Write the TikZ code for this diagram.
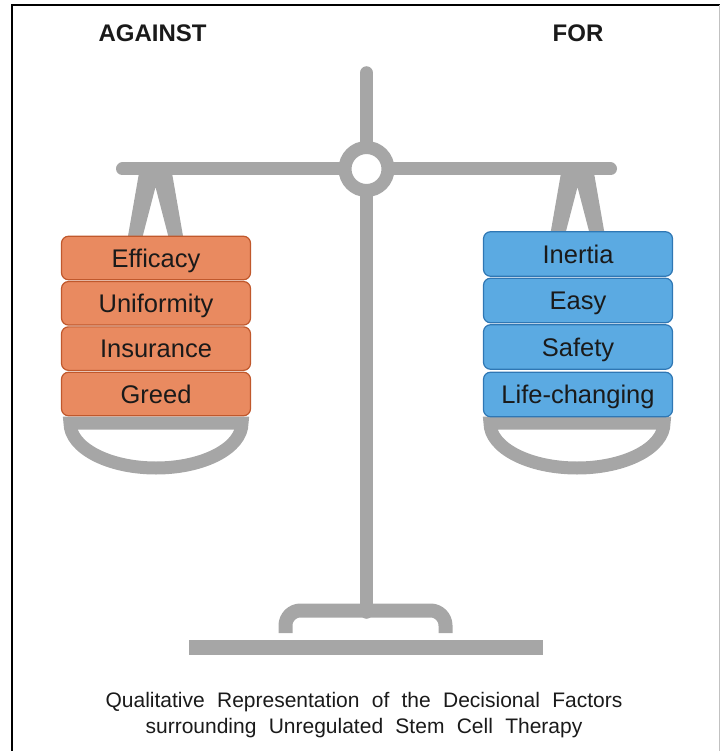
\documentclass[tikz,border=0pt]{standalone}
\usepackage{fontspec}
\setmainfont{Liberation Sans}
\definecolor{scalegray}{HTML}{A6A6A6}
\definecolor{againstfill}{HTML}{E98A60}
\definecolor{againstedge}{HTML}{C0582C}
\definecolor{forfill}{HTML}{5BAAE2}
\definecolor{foredge}{HTML}{2F77B4}
\definecolor{inktext}{HTML}{1A1A1A}
\newcommand\boxtextfnt{\fontsize{25.5}{30}\selectfont}
\newcommand\headfnt{\fontsize{24}{28}\selectfont\bfseries}
\newcommand\capfnt{\fontsize{21}{26}\selectfont}
% hanger: tapered A-frame with a triangular opening, centred at x=#1
\newcommand\hangershape[1]{%
  \fill[scalegray, even odd rule]
    (#1-15.8,169) -- (#1+15.8,169) -- (#1+28.2,240) -- (#1-28.2,240) -- cycle
    (#1,187) -- (#1+13.8,240) -- (#1-13.8,240) -- cycle;}
\begin{document}
\begin{tikzpicture}[x=1pt,y=-1pt,
  scalepart/.style={draw=scalegray, line width=13pt},
  factorbox/.style={rounded corners=7pt, line width=1.2pt, minimum width=189pt,
    inner sep=0pt, text height=18.3pt, text depth=0pt, font=\boxtextfnt, text=inktext},
  againstbox/.style={factorbox, draw=againstedge, fill=againstfill, minimum height=43.5pt},
  forbox/.style={factorbox, draw=foredge, fill=forfill, minimum height=44.5pt},
  heading/.style={anchor=base, font=\headfnt, text=inktext},
  captionline/.style={anchor=base, font=\capfnt, text=inktext}]
\useasboundingbox (0,0) rectangle (720,751);

% frame
\draw[line width=2pt] (12,751) -- (12,5.5) -- (720,5.5);
\draw[scalegray!70, line width=1pt] (719,5.5) -- (719,751);

% headings
\node[heading] (against) at (152.5,42) {AGAINST};
\node[heading] (for) at (578,42) {FOR};

% hangers
\hangershape{155.5}
\hangershape{577.5}

% pans (half ellipses)
\draw[scalepart] (70,423) -- (242,423)
  .. controls (242,447.9) and (203.5,468) .. (156,468)
  .. controls (108.5,468) and (70,447.9) .. cycle;
\draw[scalepart] (490,423) -- (664,423)
  .. controls (664,447.9) and (625,468) .. (577,468)
  .. controls (529,468) and (490,447.9) .. cycle;

% beam and post
\draw[scalepart, line cap=round] (122.5,169) -- (610.5,169);
\draw[scalepart, line width=13.5pt, line cap=round] (366.5,73) -- (366.5,612);
\draw[scalepart, fill=white] (366.5,169) circle[radius=21.5];

% stand
\draw[scalepart, line width=14pt, rounded corners=15pt] (285.5,633) -- (285.5,610.5) -- (445.5,610.5) -- (445.5,633);
\fill[scalegray] (189,640) rectangle (543,655);

% factors against
\node[againstbox] (efficacy)    at (156,258)   {Efficacy};
\node[againstbox] (uniformity)  at (156,303.3) {Uniformity};
\node[againstbox] (insurance)   at (156,348.6) {Insurance};
\node[againstbox] (greed)       at (156,394)   {Greed};

% factors for
\node[forbox] (inertia)  at (578,254)   {Inertia};
\node[forbox] (easy)     at (578,300.5) {Easy};
\node[forbox] (safety)   at (578,347)   {Safety};
\node[forbox] (life)     at (578,394.5) {Life-changing};

% caption
\node[captionline] (cap1) at (364,707) {\spaceskip=12.3pt\relax Qualitative Representation of the Decisional Factors};
\node[captionline] (cap2) at (364,733) {\spaceskip=12.3pt\relax surrounding Unregulated Stem Cell Therapy};
\end{tikzpicture}
\end{document}
